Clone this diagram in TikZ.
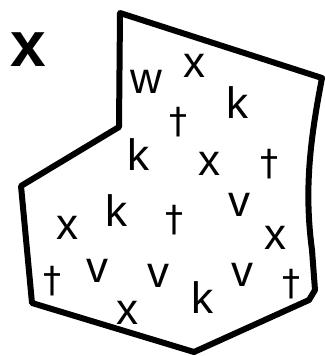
\documentclass[tikz,border=0pt]{standalone}
\usepackage{fontspec}
\setmainfont{Liberation Sans}
\newfontfamily\dgfont{DejaVu Sans}
\begin{document}
\begin{tikzpicture}[x=1pt,y=-1pt,
  lt/.style={inner sep=0pt,font=\fontsize{44}{44}\selectfont},
  dg/.style={inner sep=0pt,font=\dgfont\fontsize{36}{36}\selectfont},
  big/.style={inner sep=0pt,font=\fontsize{64}{64}\selectfont\bfseries}]
\useasboundingbox (0,0) rectangle (324,356);
\draw[line width=6pt,line join=round,line cap=round]
  (120,13) -- (322,78) .. controls (310,140) and (304,190) .. (312,250) -- (315,290)
  -- (309,300) -- (194,352) -- (32,303) -- (21,186) -- (119,127) -- cycle;
\node[big] (X) at (28,50) {x};
\node[lt] (w) at (146,82) {w};
\node[lt] (x1) at (194,66) {x};
\node[dg] (t1) at (178,122) {†};
\node[lt] (k1) at (237,103) {k};
\node[lt] (k2) at (138,155) {k};
\node[lt] (x2) at (209,164) {x};
\node[dg] (t2) at (269,164) {†};
\node[lt] (x3) at (67,228) {x};
\node[lt] (k3) at (116,211) {k};
\node[dg] (t3) at (174,220) {†};
\node[lt] (v1) at (239,205) {v};
\node[lt] (x4) at (275,238) {x};
\node[dg] (t4) at (52,281) {†};
\node[lt] (v2) at (97,271) {v};
\node[lt] (v3) at (158,276) {v};
\node[lt] (x5) at (127,313) {x};
\node[lt] (k4) at (202,298) {k};
\node[lt] (v4) at (242,275) {v};
\node[dg] (t5) at (291,284) {†};
\end{tikzpicture}
\end{document}
